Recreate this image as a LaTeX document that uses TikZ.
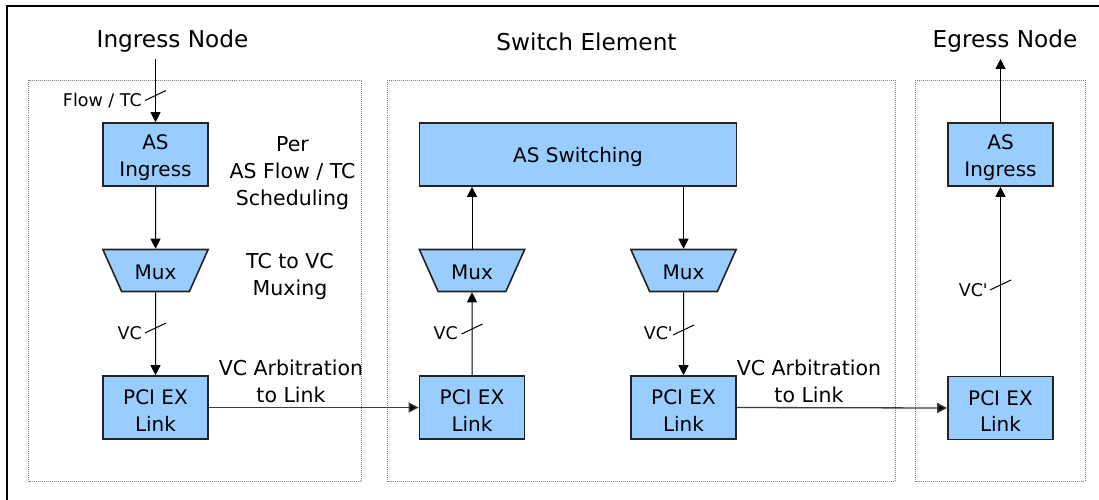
\documentclass[tikz,border=0pt]{standalone}
\usepackage{fontspec}
\setmainfont{DejaVu Sans}
\usetikzlibrary{arrows.meta,shapes.geometric}

\definecolor{blockfill}{RGB}{153,204,255}
\definecolor{blockline}{RGB}{34,34,34}
\definecolor{dotline}{RGB}{128,128,128}
\definecolor{linkline}{RGB}{60,60,60}

% strut that lowers the text block inside a box a little
\newcommand{\toppad}[1]{\rule{0pt}{#1}}

\tikzset{
  block/.style={draw=blockline, line width=1.6pt, fill=blockfill, inner sep=0pt,
    align=center, font=\fontsize{20}{26.5}\selectfont},
  muxbox/.style={trapezium, trapezium left angle=121, trapezium right angle=121,
    trapezium stretches=true, minimum width=106pt, minimum height=42pt,
    draw=blockline, line width=1.6pt, fill=blockfill, inner sep=0pt,
    font=\fontsize{20}{24}\selectfont},
  region/.style={draw=dotline, line width=1pt, dash pattern=on 1pt off 1pt},
  flow/.style={draw=black, line width=1pt, -{Triangle[length=10pt,width=10pt]}},
  link/.style={draw=linkline, line width=1.3pt, -{Triangle[length=10pt,width=10pt,fill=black]}},
  slashline/.style={draw=black, line width=1pt},
  title/.style={font=\fontsize{23.2}{27}\selectfont},
  note/.style={align=center, font=\fontsize{20.5}{27}\selectfont},
  tag/.style={font=\fontsize{17.5}{20}\selectfont, inner sep=0pt, anchor=east},
}

\begin{document}
\begin{tikzpicture}[x=1pt, y=-1pt]
  \useasboundingbox (0,0) rectangle (1099,500);

  % outer frame (only its left and top edges fall inside the page)
  \draw[line width=2pt] (7,501) -- (7,6) -- (1100,6);

  % dotted region outlines
  \draw[region] (28.5,80.5) rectangle (361.5,481);
  \draw[region] (387.5,80.5) rectangle (895,481);
  \draw[region] (915.5,80.5) rectangle (1085,481);

  % titles
  \node[title] (tin)  at (172.5,41.5) {Ingress Node};
  \node[title] (tsw)  at (586.5,41.5) {Switch Element};
  \node[title] (teg)  at (1005,41.5) {Egress Node};

  % ingress node blocks
  \node[block, minimum width=105pt, minimum height=63pt] (asin1) at (155.5,154.5) {\toppad{21pt}AS\\Ingress};
  \node[muxbox] (mux1) at (155.5,270.5) {\toppad{19pt}Mux};
  \node[block, minimum width=105pt, minimum height=63pt] (pci1) at (155.5,407.5) {\toppad{21pt}PCI EX\\Link};

  % switch element blocks
  \node[block, minimum width=317pt, minimum height=63pt] (sw) at (578,154.5) {\toppad{21pt}AS Switching};
  \node[muxbox] (mux2) at (472,270.5) {\toppad{19pt}Mux};
  \node[muxbox] (mux3) at (683.5,270.5) {\toppad{19pt}Mux};
  \node[block, minimum width=105pt, minimum height=63pt] (pci2) at (472,407.5) {\toppad{21pt}PCI EX\\Link};
  \node[block, minimum width=105pt, minimum height=63pt] (pci3) at (683.5,407.5) {\toppad{21pt}PCI EX\\Link};

  % egress node blocks
  \node[block, minimum width=105pt, minimum height=63pt] (asin2) at (1000.5,154.5) {\toppad{21pt}AS\\Ingress};
  \node[block, minimum width=105pt, minimum height=63pt] (pci4) at (1000.5,408) {\toppad{21pt}PCI EX\\Link};

  % side notes
  \node[note] (n1) at (292.5,173.5) {Per\\AS Flow / TC\\Scheduling};
  \node[note] (n2) at (290,276.5) {TC to VC\\Muxing};
  \node[note] (n3) at (291,381) {VC Arbitration\\to Link};
  \node[note] (n4) at (809,381) {VC Arbitration\\to Link};

  % free ends of the entry and exit arrows
  \coordinate (inend) at (155.5,59);
  \coordinate (outend) at (1000.5,59);

  % connectors
  \draw[flow] (inend) -- (asin1.north);
  \draw[flow] (asin1.south) -- (mux1.north);
  \draw[flow] (mux1.south) -- (pci1.north);
  \draw[link] (pci1.east) -- (pci2.west);
  \draw[flow] (pci2.north) -- (mux2.south);
  \draw[flow] (mux2.north) -- (sw.south -| mux2.north);
  \draw[flow] (sw.south -| mux3.north) -- (mux3.north);
  \draw[flow] (mux3.south) -- (pci3.north);
  \draw[link] (pci3.east) -- (pci4.west);
  \draw[flow] (pci4.north) -- (asin2.south);
  \draw[flow] (asin2.north) -- (outend);

  % bus-width slashes and their labels
  \coordinate (s1) at (155.5,95.5);
  \coordinate (s2) at (155.5,328);
  \coordinate (s3) at (472,329);
  \coordinate (s4) at (683.5,330);
  \coordinate (s5) at (1000.5,285);
  \foreach \s in {s1,s2,s3,s4,s5}
    \draw[slashline] ([shift={(-10.5,5)}]\s) -- ([shift={(10.5,-5)}]\s);

  \node[tag] (l1) at (142,100.5) {Flow / TC};
  \node[tag] (l2) at (142,333) {VC};
  \node[tag] (l3) at (458,333) {VC};
  \node[tag] (l4) at (673,333) {VC\textquotesingle};
  \node[tag] (l5) at (988,290) {VC\textquotesingle};
\end{tikzpicture}
\end{document}
